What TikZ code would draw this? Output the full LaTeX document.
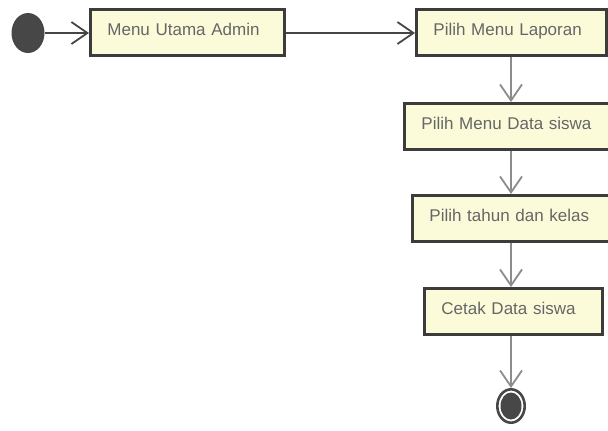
\documentclass[tikz,border=0pt]{standalone}
\usepackage{fontspec}
\setmainfont{Liberation Sans}
\usetikzlibrary{arrows.meta, shapes.geometric}
\definecolor{boxfill}{HTML}{FBFBDA}
\definecolor{boxline}{HTML}{3C3C3C}
\definecolor{boxtext}{HTML}{666666}
\definecolor{darkline}{HTML}{454545}
\definecolor{grayline}{HTML}{8C8C8C}
\definecolor{dotgray}{HTML}{474747}
\begin{document}
\begin{tikzpicture}[x=0.5pt, y=-0.5pt,
	act/.style={draw=boxline, fill=boxfill, line width=1.4pt, anchor=north west, align=left, inner xsep=8.5pt, inner ysep=0pt, minimum height=23pt, text height=6.5pt, text depth=3pt, text=boxtext, font=\fontsize{8.5}{10}\selectfont},
	flow/.style={line width=0.9pt, arrows={-{Straight Barb[length=8pt, width=11pt]}}}]
	\clip (0,0) rectangle (608,430);
	\node [ellipse, fill=dotgray, minimum width=16.5pt, minimum height=20pt, inner sep=0pt] (start) at (28,33) {};
	\node [act, text width=80pt] (menu) at (89,8) {Menu Utama Admin};
	\node [act, text width=78pt] (laporan) at (415,8) {Pilih Menu Laporan};
	\node [act, text width=91.5pt] (datasiswa) at (403,102) {Pilih Menu Data siswa};
	\node [act, text width=88pt] (tahun) at (411,194) {Pilih tahun dan kelas};
	\node [act, text width=72pt] (cetak) at (423,287) {Cetak Data siswa};
	\node [ellipse, draw=dotgray, line width=1.3pt, fill=white, minimum width=13.7pt, minimum height=16.7pt, inner sep=0pt] (stop) at (511,406) {};
	\node [ellipse, fill=dotgray, minimum width=10.5pt, minimum height=13.5pt, inner sep=0pt] (stopdot) at (stop) {};
	\draw [flow, darkline] (start) -- (start -| menu.west);
	\draw [flow, darkline] (menu.east |- start) -- (start -| laporan.west);
	\draw [flow, grayline] (laporan.south -| stop) -- (datasiswa.north -| stop);
	\draw [flow, grayline] (datasiswa.south -| stop) -- (tahun.north -| stop);
	\draw [flow, grayline] (tahun.south -| stop) -- (cetak.north -| stop);
	\draw [flow, grayline] (cetak.south -| stop) -- (stop.north);
\end{tikzpicture}
\end{document}
